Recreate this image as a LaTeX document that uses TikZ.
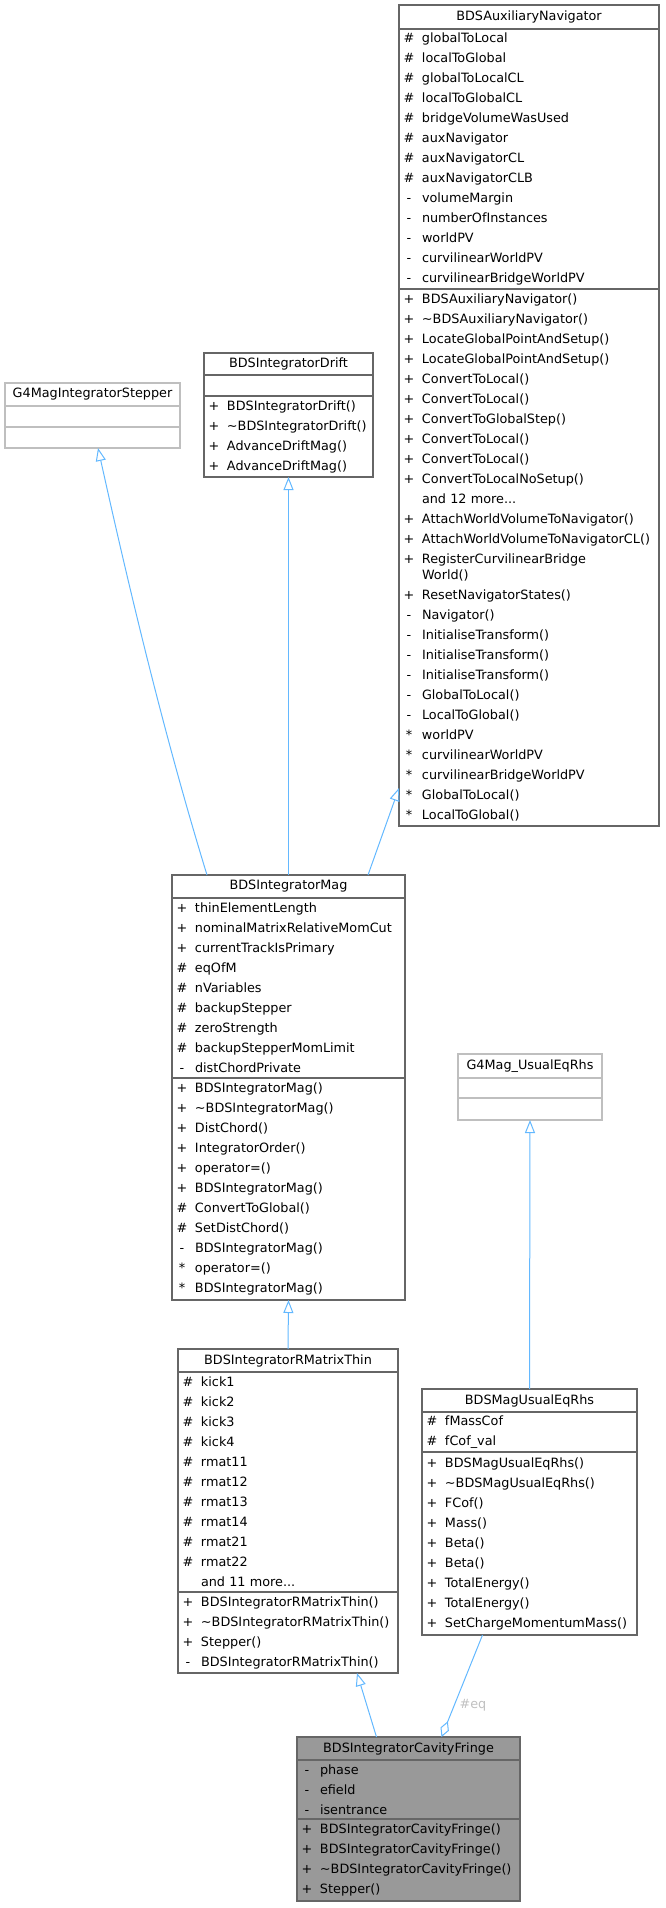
\documentclass[tikz,border=0pt]{standalone}
\usepackage{fontspec}
\setmainfont{DejaVu Sans}
\usetikzlibrary{positioning,arrows.meta}
\definecolor{boxgray}{RGB}{102,102,102}
\definecolor{extgray}{RGB}{191,191,191}
\definecolor{focusgray}{RGB}{153,153,153}
\definecolor{edgeblue}{RGB}{99,184,255}
\definecolor{labelgray}{RGB}{192,192,192}
\hyphenpenalty=10000
\newcommand{\umlrow}[2]{\makebox[12pt][c]{#1}\hspace{7pt}#2}
\newcommand{\umlmore}[1]{\hspace{19pt}#1}

\begin{document}
\begin{tikzpicture}[x=1pt, y=-1pt,
    font=\fontsize{12.8}{20}\selectfont,
    part/.style={draw=boxgray, line width=1.2pt, inner xsep=4pt, inner ysep=0pt,
                 outer sep=0pt, minimum width=#1},
    ext/.style={part=#1, draw=extgray},
    focus/.style={part=#1, fill=focusgray},
    title/.style={minimum height=23pt, anchor=north west},
    members/.style={align=left, text width=#1},
    isa/.style={draw=edgeblue, line width=1pt, -{Triangle[open, length=13pt, width=10pt]}},
    hasa/.style={draw=edgeblue, line width=1pt, -{Diamond[open, length=17pt, width=9pt]}},
    lbl/.style={text=labelgray, inner sep=0pt}
]
\useasboundingbox (0,0) rectangle (665,1908);

\node[part=260pt, title, minimum height=24pt] (navT) at (399,5) {BDSAuxiliaryNavigator};
\node[part=260pt, members=252pt, minimum height=260pt, below=0pt of navT] (navA) {%
\umlrow{\#}{globalToLocal}\\
\umlrow{\#}{localToGlobal}\\
\umlrow{\#}{globalToLocalCL}\\
\umlrow{\#}{localToGlobalCL}\\
\umlrow{\#}{bridgeVolumeWasUsed}\\
\umlrow{\#}{auxNavigator}\\
\umlrow{\#}{auxNavigatorCL}\\
\umlrow{\#}{auxNavigatorCLB}\\
\umlrow{-}{volumeMargin}\\
\umlrow{-}{numberOfInstances}\\
\umlrow{-}{worldPV}\\
\umlrow{-}{curvilinearWorldPV}\\
\umlrow{-}{curvilinearBridgeWorldPV}};
\node[part=260pt, members=252pt, minimum height=537pt, below=0pt of navA] (navM) {%
\umlrow{+}{BDSAuxiliaryNavigator()}\\
\umlrow{+}{\textasciitilde BDSAuxiliaryNavigator()}\\
\umlrow{+}{LocateGlobalPointAndSetup()}\\
\umlrow{+}{LocateGlobalPointAndSetup()}\\
\umlrow{+}{ConvertToLocal()}\\
\umlrow{+}{ConvertToLocal()}\\
\umlrow{+}{ConvertToGlobalStep()}\\
\umlrow{+}{ConvertToLocal()}\\
\umlrow{+}{ConvertToLocal()}\\
\umlrow{+}{ConvertToLocalNoSetup()}\\
\umlmore{and 12 more...}\\
\umlrow{+}{AttachWorldVolumeToNavigator()}\\
\umlrow{+}{AttachWorldVolumeToNavigatorCL()}\\
\umlrow{+}{RegisterCurvilinearBridge}\\[-4pt]
\umlmore{World()}\\
\umlrow{+}{ResetNavigatorStates()}\\
\umlrow{-}{Navigator()}\\
\umlrow{-}{InitialiseTransform()}\\
\umlrow{-}{InitialiseTransform()}\\
\umlrow{-}{InitialiseTransform()}\\
\umlrow{-}{GlobalToLocal()}\\
\umlrow{-}{LocalToGlobal()}\\
\umlrow{*}{worldPV}\\
\umlrow{*}{curvilinearWorldPV}\\
\umlrow{*}{curvilinearBridgeWorldPV}\\
\umlrow{*}{GlobalToLocal()}\\
\umlrow{*}{LocalToGlobal()}};

\node[ext=175pt, title] (stepT) at (5,383) {G4MagIntegratorStepper};
\node[ext=175pt, minimum height=21pt, below=0pt of stepT] (stepA) {};
\node[ext=175pt, minimum height=21pt, below=0pt of stepA] (stepM) {};

\node[part=169pt, title, minimum height=22pt] (driftT) at (204,353) {BDSIntegratorDrift};
\node[part=169pt, minimum height=21pt, below=0pt of driftT] (driftA) {};
\node[part=169pt, members=161pt, minimum height=81pt, below=0pt of driftA] (driftM) {%
\umlrow{+}{BDSIntegratorDrift()}\\
\umlrow{+}{\textasciitilde BDSIntegratorDrift()}\\
\umlrow{+}{AdvanceDriftMag()}\\
\umlrow{+}{AdvanceDriftMag()}};

\node[part=233pt, title] (magT) at (172,875) {BDSIntegratorMag};
\node[part=233pt, members=225pt, minimum height=180pt, below=0pt of magT] (magA) {%
\umlrow{+}{thinElementLength}\\
\umlrow{+}{nominalMatrixRelativeMomCut}\\
\umlrow{+}{currentTrackIsPrimary}\\
\umlrow{\#}{eqOfM}\\
\umlrow{\#}{nVariables}\\
\umlrow{\#}{backupStepper}\\
\umlrow{\#}{zeroStrength}\\
\umlrow{\#}{backupStepperMomLimit}\\
\umlrow{-}{distChordPrivate}};
\node[part=233pt, members=225pt, minimum height=222pt, below=0pt of magA] (magM) {%
\umlrow{+}{BDSIntegratorMag()}\\
\umlrow{+}{\textasciitilde BDSIntegratorMag()}\\
\umlrow{+}{DistChord()}\\
\umlrow{+}{IntegratorOrder()}\\
\umlrow{+}{operator=()}\\
\umlrow{+}{BDSIntegratorMag()}\\
\umlrow{\#}{ConvertToGlobal()}\\
\umlrow{\#}{SetDistChord()}\\
\umlrow{-}{BDSIntegratorMag()}\\
\umlrow{*}{operator=()}\\
\umlrow{*}{BDSIntegratorMag()}};

\node[ext=144pt, title, minimum height=24pt] (usualT) at (458,1054) {G4Mag\_UsualEqRhs};
\node[ext=144pt, minimum height=20pt, below=0pt of usualT] (usualA) {};
\node[ext=144pt, minimum height=22pt, below=0pt of usualA] (usualM) {};

\node[part=220pt, title] (rmatT) at (178,1349) {BDSIntegratorRMatrixThin};
\node[part=220pt, members=212pt, minimum height=220pt, below=0pt of rmatT] (rmatA) {%
\umlrow{\#}{kick1}\\
\umlrow{\#}{kick2}\\
\umlrow{\#}{kick3}\\
\umlrow{\#}{kick4}\\
\umlrow{\#}{rmat11}\\
\umlrow{\#}{rmat12}\\
\umlrow{\#}{rmat13}\\
\umlrow{\#}{rmat14}\\
\umlrow{\#}{rmat21}\\
\umlrow{\#}{rmat22}\\
\umlmore{and 11 more...}};
\node[part=220pt, members=212pt, minimum height=81pt, below=0pt of rmatA] (rmatM) {%
\umlrow{+}{BDSIntegratorRMatrixThin()}\\
\umlrow{+}{\textasciitilde BDSIntegratorRMatrixThin()}\\
\umlrow{+}{Stepper()}\\
\umlrow{-}{BDSIntegratorRMatrixThin()}};

\node[part=215pt, title] (eqrT) at (422,1389) {BDSMagUsualEqRhs};
\node[part=215pt, members=207pt, minimum height=40pt, below=0pt of eqrT] (eqrA) {%
\umlrow{\#}{fMassCof}\\
\umlrow{\#}{fCof\_val}};
\node[part=215pt, members=207pt, minimum height=183pt, below=0pt of eqrA] (eqrM) {%
\umlrow{+}{BDSMagUsualEqRhs()}\\
\umlrow{+}{\textasciitilde BDSMagUsualEqRhs()}\\
\umlrow{+}{FCof()}\\
\umlrow{+}{Mass()}\\
\umlrow{+}{Beta()}\\
\umlrow{+}{Beta()}\\
\umlrow{+}{TotalEnergy()}\\
\umlrow{+}{TotalEnergy()}\\
\umlrow{+}{SetChargeMomentumMass()}};

\node[focus=223pt, title] (cavT) at (297,1737) {BDSIntegratorCavityFringe};
\node[focus=223pt, members=215pt, minimum height=59pt, below=0pt of cavT] (cavA) {%
\umlrow{-}{phase}\\
\umlrow{-}{efield}\\
\umlrow{-}{isentrance}};
\node[focus=223pt, members=215pt, minimum height=82pt, below=0pt of cavA] (cavM) {%
\umlrow{+}{BDSIntegratorCavityFringe()}\\
\umlrow{+}{BDSIntegratorCavityFringe()}\\
\umlrow{+}{\textasciitilde BDSIntegratorCavityFringe()}\\
\umlrow{+}{Stepper()}};

\draw[isa] ([xshift=35pt]magT.north west) .. controls (164,735) and (129,588) .. ([xshift=5.5pt]stepM.south);
\draw[isa] (magT.north) -- (driftM.south);
\draw[isa] ([xshift=-37pt]magT.north east) -- ([yshift=38pt]navM.south west);
\draw[isa] (rmatT.north) -- (magM.south);
\draw[isa] (eqrT.north) -- (usualM.south);
\draw[isa] ([xshift=-32pt]cavT.north) -- ([xshift=69pt]rmatM.south);
\draw[hasa] ([xshift=-47pt]eqrM.south) -- ([xshift=33pt]cavT.north);
\node[lbl] (eqlbl) at (473,1705) {\#eq};
\end{tikzpicture}
\end{document}
